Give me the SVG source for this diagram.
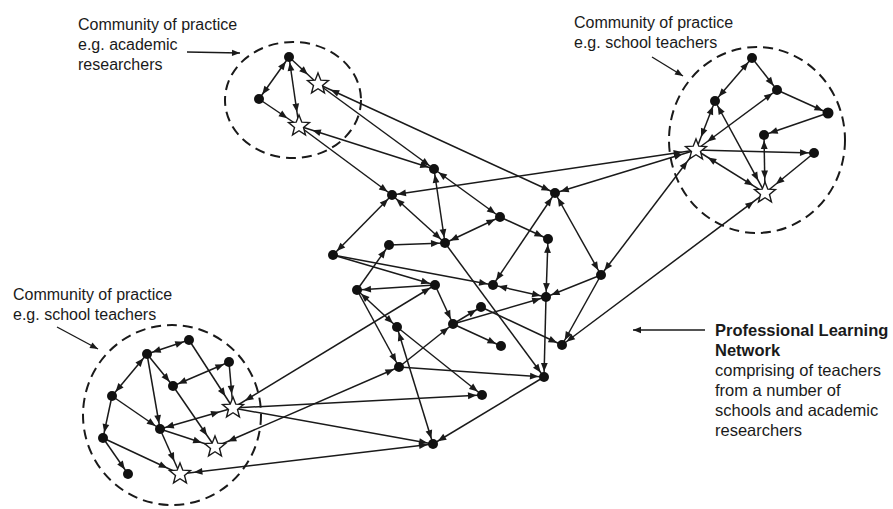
<svg xmlns="http://www.w3.org/2000/svg" xmlns:xlink="http://www.w3.org/1999/xlink" width="893" height="509" viewBox="0 0 893 509">
<style>
  .bg{fill:#ffffff}
  .cx line{stroke:#1a1a1a;stroke-width:1.5;fill:none}
  .dot{fill:#111111}
  .star{fill:#ffffff;stroke:#1a1a1a;stroke-width:1.4;stroke-linejoin:miter}
  .ell{fill:none;stroke:#1a1a1a;stroke-width:2;stroke-dasharray:10 6}
  .lbl{font-family:"Liberation Sans",Arial,sans-serif;font-size:16px;fill:#1a1a1a}
  .rl{font-family:"Liberation Sans",Arial,sans-serif;font-size:16.5px;fill:#1a1a1a}
  .b{font-weight:bold}
  .la{stroke:#1a1a1a;stroke-width:1.4}
</style>
<defs>
  <marker id="d" markerUnits="userSpaceOnUse" orient="auto-start-reverse" refX="5.5" refY="0" markerWidth="10" markerHeight="10" overflow="visible">
    <path d="M0,0 L-8.5,-3.4 L-8.5,3.4 Z" fill="#1a1a1a"/>
  </marker>
  <marker id="s" markerUnits="userSpaceOnUse" orient="auto-start-reverse" refX="14" refY="0" markerWidth="10" markerHeight="10" overflow="visible">
    <path d="M0,0 L-8.5,-3.4 L-8.5,3.4 Z" fill="#1a1a1a"/>
  </marker>
  <marker id="p" markerUnits="userSpaceOnUse" orient="auto" refX="0" refY="0" markerWidth="10" markerHeight="10" overflow="visible">
    <path d="M0,0 L-8,-3.2 L-8,3.2 Z" fill="#1a1a1a"/>
  </marker>
  <path id="st" class="star" d="M0,-11 L2.8,-3.85 L10.46,-3.4 L4.5,1.46 L6.47,8.9 L0,4.75 L-6.47,8.9 L-4.5,1.46 L-10.46,-3.4 L-2.8,-3.85 Z"/>
</defs>
<rect class="bg" x="0" y="0" width="893" height="509"/>

<g id="clusters">
  <ellipse id="cop-academic" class="ell" cx="293" cy="100" rx="68" ry="58"/>
  <ellipse id="cop-teachers-tr" class="ell" cx="757" cy="140" rx="88" ry="93"/>
  <ellipse id="cop-teachers-bl" class="ell" cx="172" cy="415" rx="89" ry="90"/>
</g>

<g id="connectors" class="cx">
  <line x1="289" y1="57" x2="259" y2="99" marker-start="url(#d)" marker-end="url(#d)"/>
  <line x1="289" y1="57" x2="318" y2="84" marker-end="url(#s)"/>
  <line x1="289" y1="57" x2="299" y2="126" marker-start="url(#d)" marker-end="url(#s)"/>
  <line x1="259" y1="99" x2="299" y2="126" marker-end="url(#s)"/>
  <line x1="318" y1="84" x2="555" y2="193" marker-start="url(#s)" marker-end="url(#d)"/>
  <line x1="318" y1="84" x2="434" y2="169" marker-end="url(#d)"/>
  <line x1="299" y1="126" x2="434" y2="169" marker-start="url(#s)" marker-end="url(#d)"/>
  <line x1="299" y1="126" x2="392" y2="195" marker-end="url(#d)"/>

  <line x1="752" y1="58" x2="715" y2="101" marker-start="url(#d)" marker-end="url(#d)"/>
  <line x1="752" y1="58" x2="777" y2="90" marker-end="url(#d)"/>
  <line x1="777" y1="90" x2="828" y2="113" marker-end="url(#d)"/>
  <line x1="777" y1="90" x2="696" y2="150" marker-start="url(#d)" marker-end="url(#s)"/>
  <line x1="715" y1="101" x2="696" y2="150" marker-start="url(#d)" marker-end="url(#s)"/>
  <line x1="715" y1="101" x2="765" y2="193" marker-start="url(#d)" marker-end="url(#s)"/>
  <line x1="828" y1="113" x2="764" y2="135" marker-end="url(#d)"/>
  <line x1="764" y1="135" x2="765" y2="193" marker-start="url(#d)" marker-end="url(#s)"/>
  <line x1="696" y1="150" x2="814" y2="153" marker-end="url(#d)"/>
  <line x1="814" y1="153" x2="765" y2="193" marker-end="url(#s)"/>
  <line x1="696" y1="150" x2="765" y2="193" marker-start="url(#s)" marker-end="url(#s)"/>

  <line x1="392" y1="195" x2="696" y2="150" marker-start="url(#d)" marker-end="url(#s)"/>
  <line x1="555" y1="193" x2="696" y2="150" marker-start="url(#d)" marker-end="url(#s)"/>
  <line x1="601" y1="275" x2="696" y2="150" marker-start="url(#d)" marker-end="url(#s)"/>
  <line x1="562" y1="345" x2="765" y2="193" marker-start="url(#d)" marker-end="url(#s)"/>

  <line x1="392" y1="195" x2="333" y2="255" marker-start="url(#d)" marker-end="url(#d)"/>
  <line x1="392" y1="195" x2="445" y2="243" marker-start="url(#d)" marker-end="url(#d)"/>
  <line x1="434" y1="169" x2="445" y2="243" marker-start="url(#d)" marker-end="url(#d)"/>
  <line x1="434" y1="169" x2="500" y2="217" marker-start="url(#d)" marker-end="url(#d)"/>
  <line x1="445" y1="243" x2="500" y2="217" marker-start="url(#d)" marker-end="url(#d)"/>
  <line x1="500" y1="217" x2="548" y2="239" marker-end="url(#d)"/>
  <line x1="555" y1="193" x2="493" y2="285" marker-start="url(#d)" marker-end="url(#d)"/>
  <line x1="555" y1="193" x2="601" y2="275" marker-start="url(#d)" marker-end="url(#d)"/>
  <line x1="601" y1="275" x2="546" y2="297" marker-end="url(#d)"/>
  <line x1="601" y1="275" x2="562" y2="345" marker-end="url(#d)"/>
  <line x1="548" y1="239" x2="546" y2="297" marker-start="url(#d)" marker-end="url(#d)"/>
  <line x1="493" y1="285" x2="546" y2="297" marker-start="url(#d)" marker-end="url(#d)"/>
  <line x1="389" y1="245" x2="445" y2="243" marker-end="url(#d)"/>
  <line x1="357" y1="290" x2="389" y2="245" marker-end="url(#d)"/>
  <line x1="333" y1="255" x2="435" y2="285" marker-end="url(#d)"/>
  <line x1="333" y1="255" x2="493" y2="285" marker-end="url(#d)"/>
  <line x1="435" y1="285" x2="357" y2="290" marker-end="url(#d)"/>
  <line x1="435" y1="285" x2="453" y2="324" marker-end="url(#d)"/>
  <line x1="445" y1="243" x2="544" y2="377" marker-end="url(#d)"/>
  <line x1="357" y1="290" x2="397" y2="327" marker-start="url(#d)" marker-end="url(#d)"/>
  <line x1="357" y1="290" x2="399" y2="367" marker-end="url(#d)"/>
  <line x1="397" y1="327" x2="433" y2="444" marker-start="url(#d)" marker-end="url(#d)"/>
  <line x1="397" y1="327" x2="482" y2="395" marker-end="url(#d)"/>
  <line x1="399" y1="367" x2="453" y2="324" marker-end="url(#d)"/>
  <line x1="399" y1="367" x2="544" y2="377" marker-end="url(#d)"/>
  <line x1="453" y1="324" x2="501" y2="346" marker-end="url(#d)"/>
  <line x1="453" y1="324" x2="481" y2="307" marker-end="url(#d)"/>
  <line x1="453" y1="324" x2="546" y2="297" marker-end="url(#d)"/>
  <line x1="481" y1="307" x2="562" y2="345" marker-end="url(#d)"/>
  <line x1="546" y1="297" x2="544" y2="377" marker-end="url(#d)"/>
  <line x1="544" y1="377" x2="433" y2="444" marker-end="url(#d)"/>

  <line x1="435" y1="285" x2="233" y2="408" marker-start="url(#d)" marker-end="url(#s)"/>
  <line x1="233" y1="408" x2="482" y2="395" marker-end="url(#d)"/>
  <line x1="233" y1="408" x2="433" y2="444" marker-end="url(#d)"/>
  <line x1="399" y1="367" x2="215" y2="447" marker-start="url(#d)" marker-end="url(#s)"/>
  <line x1="433" y1="444" x2="180" y2="474" marker-start="url(#d)" marker-end="url(#s)"/>

  <line x1="189" y1="340" x2="147" y2="354" marker-start="url(#d)" marker-end="url(#d)"/>
  <line x1="189" y1="340" x2="233" y2="408" marker-end="url(#s)"/>
  <line x1="229" y1="362" x2="173" y2="386" marker-start="url(#d)" marker-end="url(#d)"/>
  <line x1="229" y1="362" x2="233" y2="408" marker-end="url(#s)"/>
  <line x1="147" y1="354" x2="112" y2="396" marker-start="url(#d)" marker-end="url(#d)"/>
  <line x1="147" y1="354" x2="173" y2="386" marker-end="url(#d)"/>
  <line x1="147" y1="354" x2="160" y2="429" marker-end="url(#d)"/>
  <line x1="112" y1="396" x2="160" y2="429" marker-end="url(#d)"/>
  <line x1="112" y1="396" x2="103" y2="438" marker-end="url(#d)"/>
  <line x1="173" y1="386" x2="215" y2="447" marker-end="url(#s)"/>
  <line x1="160" y1="429" x2="233" y2="408" marker-start="url(#d)" marker-end="url(#s)"/>
  <line x1="160" y1="429" x2="215" y2="447" marker-end="url(#s)"/>
  <line x1="160" y1="429" x2="180" y2="474" marker-end="url(#s)"/>
  <line x1="103" y1="438" x2="128" y2="474" marker-end="url(#d)"/>
  <line x1="103" y1="438" x2="180" y2="474" marker-end="url(#s)"/>
</g>

<g id="nodes">
  <g id="A1"><circle class="dot" cx="289" cy="57" r="5"/></g>
  <g id="A2"><circle class="dot" cx="259" cy="99" r="5"/></g>
  <g id="S1"><use xlink:href="#st" href="#st" x="318" y="84"/></g>
  <g id="S2"><use xlink:href="#st" href="#st" x="299" y="126"/></g>

  <g id="E1"><circle class="dot" cx="752" cy="58" r="5"/></g>
  <g id="E2"><circle class="dot" cx="777" cy="90" r="5"/></g>
  <g id="E3"><circle class="dot" cx="715" cy="101" r="5"/></g>
  <g id="E4"><circle class="dot" cx="828" cy="113" r="5.5"/></g>
  <g id="E5"><circle class="dot" cx="764" cy="135" r="5"/></g>
  <g id="E6"><circle class="dot" cx="814" cy="153" r="5"/></g>
  <g id="ES1"><use xlink:href="#st" href="#st" x="696" y="150"/></g>
  <g id="ES2"><use xlink:href="#st" href="#st" x="765" y="193"/></g>

  <g id="B1"><circle class="dot" cx="392" cy="195" r="5"/></g>
  <g id="B2"><circle class="dot" cx="434" cy="169" r="5"/></g>
  <g id="B3"><circle class="dot" cx="445" cy="243" r="5"/></g>
  <g id="B4"><circle class="dot" cx="389" cy="245" r="5"/></g>
  <g id="B5"><circle class="dot" cx="333" cy="255" r="5"/></g>
  <g id="B6"><circle class="dot" cx="435" cy="285" r="5"/></g>
  <g id="B7"><circle class="dot" cx="357" cy="290" r="5"/></g>
  <g id="B8"><circle class="dot" cx="397" cy="327" r="5"/></g>
  <g id="B9"><circle class="dot" cx="453" cy="324" r="5"/></g>
  <g id="C1"><circle class="dot" cx="555" cy="193" r="5"/></g>
  <g id="C2"><circle class="dot" cx="500" cy="217" r="5"/></g>
  <g id="C3"><circle class="dot" cx="548" cy="239" r="5"/></g>
  <g id="C4"><circle class="dot" cx="601" cy="275" r="5"/></g>
  <g id="C5"><circle class="dot" cx="493" cy="285" r="5"/></g>
  <g id="C6"><circle class="dot" cx="546" cy="297" r="5"/></g>
  <g id="C7"><circle class="dot" cx="481" cy="307" r="5"/></g>
  <g id="C8"><circle class="dot" cx="501" cy="346" r="5"/></g>
  <g id="C9"><circle class="dot" cx="562" cy="345" r="5"/></g>
  <g id="D1"><circle class="dot" cx="399" cy="367" r="5"/></g>
  <g id="D2"><circle class="dot" cx="544" cy="377" r="5"/></g>
  <g id="D3"><circle class="dot" cx="482" cy="395" r="5"/></g>
  <g id="D4"><circle class="dot" cx="433" cy="444" r="5"/></g>

  <g id="F1"><circle class="dot" cx="189" cy="340" r="5"/></g>
  <g id="F2"><circle class="dot" cx="147" cy="354" r="5"/></g>
  <g id="F3"><circle class="dot" cx="229" cy="362" r="5"/></g>
  <g id="F4"><circle class="dot" cx="173" cy="386" r="5"/></g>
  <g id="F5"><circle class="dot" cx="112" cy="396" r="5"/></g>
  <g id="F6"><circle class="dot" cx="160" cy="429" r="5"/></g>
  <g id="F7"><circle class="dot" cx="103" cy="438" r="5"/></g>
  <g id="F8"><circle class="dot" cx="128" cy="474" r="5"/></g>
  <g id="FS1"><use xlink:href="#st" href="#st" x="233" y="408"/></g>
  <g id="FS2"><use xlink:href="#st" href="#st" x="215" y="447"/></g>
  <g id="FS3"><use xlink:href="#st" href="#st" x="180" y="474"/></g>
</g>

<g id="label-academic">
  <text class="lbl" x="78" y="30">Community of practice</text>
  <text class="lbl" x="78" y="50">e.g. academic</text>
  <text class="lbl" x="78" y="70">researchers</text>
  <line class="la" x1="187" y1="52" x2="240" y2="53" marker-end="url(#p)"/>
</g>
<g id="label-teachers-tr">
  <text class="lbl" x="574" y="28">Community of practice</text>
  <text class="lbl" x="574" y="48">e.g. school teachers</text>
  <line class="la" x1="652" y1="57" x2="683" y2="76" marker-end="url(#p)"/>
</g>
<g id="label-teachers-bl">
  <text class="lbl" x="13" y="300">Community of practice</text>
  <text class="lbl" x="13" y="320">e.g. school teachers</text>
  <line class="la" x1="57" y1="327" x2="98" y2="349" marker-end="url(#p)"/>
</g>
<g id="label-pln">
  <line class="la" x1="705" y1="330" x2="633" y2="330" marker-end="url(#p)"/>
  <text class="rl b" x="715" y="336">Professional Learning</text>
  <text class="rl b" x="715" y="356">Network</text>
  <text class="rl" x="715" y="376">comprising of teachers</text>
  <text class="rl" x="715" y="396">from a number of</text>
  <text class="rl" x="715" y="416">schools and academic</text>
  <text class="rl" x="715" y="436">researchers</text>
</g>
</svg>
